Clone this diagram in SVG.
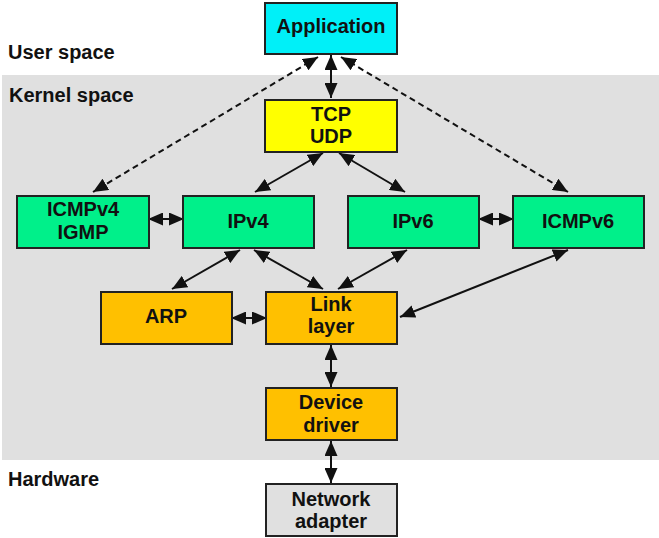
<svg xmlns="http://www.w3.org/2000/svg" width="659" height="538" viewBox="0 0 659 538">
<style>
.t{font-family:"Liberation Sans",Arial,sans-serif;font-weight:bold;font-size:20px;fill:#111}
.m{text-anchor:middle}
.b{stroke:#222;stroke-width:2}
.c{fill:none;stroke:#111;stroke-width:2;marker-start:url(#ah);marker-end:url(#ah)}
.d{stroke-dasharray:6 4}
</style>
<defs>
<marker id="ah" viewBox="0 0 15 13" refX="15" refY="6.5" markerWidth="15" markerHeight="13" markerUnits="userSpaceOnUse" orient="auto-start-reverse">
<path d="M0,0 L15,6.5 L0,13 z" fill="#111"/>
</marker>
</defs>
<rect x="0" y="0" width="659" height="538" fill="#fff"/>
<rect x="2" y="75" width="657" height="385" fill="#e0e0e0"/>
<text class="t" x="8" y="59">User space</text>
<text class="t" x="9" y="102">Kernel space</text>
<text class="t" x="8" y="486">Hardware</text>
<g id="connectors">
<line class="c" x1="331" y1="55" x2="331" y2="98"/>
<line class="c d" x1="318" y1="57" x2="93" y2="192"/>
<line class="c d" x1="341" y1="57" x2="568" y2="192"/>
<line class="c" x1="323" y1="153" x2="255" y2="192"/>
<line class="c" x1="339" y1="153" x2="405" y2="192"/>
<line class="c" x1="148" y1="219" x2="184" y2="219"/>
<line class="c" x1="478" y1="219" x2="514" y2="219"/>
<line class="c" x1="240" y1="250" x2="172" y2="289"/>
<line class="c" x1="254" y1="250" x2="323" y2="289"/>
<line class="c" x1="407" y1="250" x2="338" y2="289"/>
<line class="c" x1="568" y1="250" x2="400" y2="317"/>
<line class="c" x1="231" y1="318" x2="267" y2="318"/>
<line class="c" x1="331" y1="345" x2="331" y2="387"/>
<line class="c" x1="331" y1="441" x2="331" y2="483"/>
</g>
<g id="application"><rect class="b" x="265" y="3" width="132" height="51" fill="#00f0f8"/><text class="t m" x="331" y="33">Application</text></g>
<g id="tcpudp"><rect class="b" x="265" y="100" width="132" height="52" fill="#ffff00"/><text class="t m" x="331" y="121">TCP</text><text class="t m" x="331" y="143">UDP</text></g>
<g id="icmpv4"><rect class="b" x="17" y="196" width="132" height="52" fill="#00f08a"/><text class="t m" x="83" y="216">ICMPv4</text><text class="t m" x="83" y="239">IGMP</text></g>
<g id="ipv4"><rect class="b" x="183" y="196" width="131" height="52" fill="#00f08a"/><text class="t m" x="248" y="228">IPv4</text></g>
<g id="ipv6"><rect class="b" x="348" y="196" width="131" height="52" fill="#00f08a"/><text class="t m" x="413" y="228">IPv6</text></g>
<g id="icmpv6"><rect class="b" x="513" y="196" width="131" height="52" fill="#00f08a"/><text class="t m" x="578" y="228">ICMPv6</text></g>
<g id="arp"><rect class="b" x="101" y="292" width="131" height="52" fill="#ffc000"/><text class="t m" x="166" y="323">ARP</text></g>
<g id="linklayer"><rect class="b" x="266" y="292" width="131" height="52" fill="#ffc000"/><text class="t m" x="331" y="311">Link</text><text class="t m" x="331" y="333">layer</text></g>
<g id="devicedriver"><rect class="b" x="266" y="388" width="131" height="52" fill="#ffc000"/><text class="t m" x="331" y="409">Device</text><text class="t m" x="331" y="432">driver</text></g>
<g id="networkadapter"><rect class="b" x="266" y="484" width="131" height="52" fill="#e0e0e0"/><text class="t m" x="331" y="506">Network</text><text class="t m" x="331" y="528">adapter</text></g>
</svg>
